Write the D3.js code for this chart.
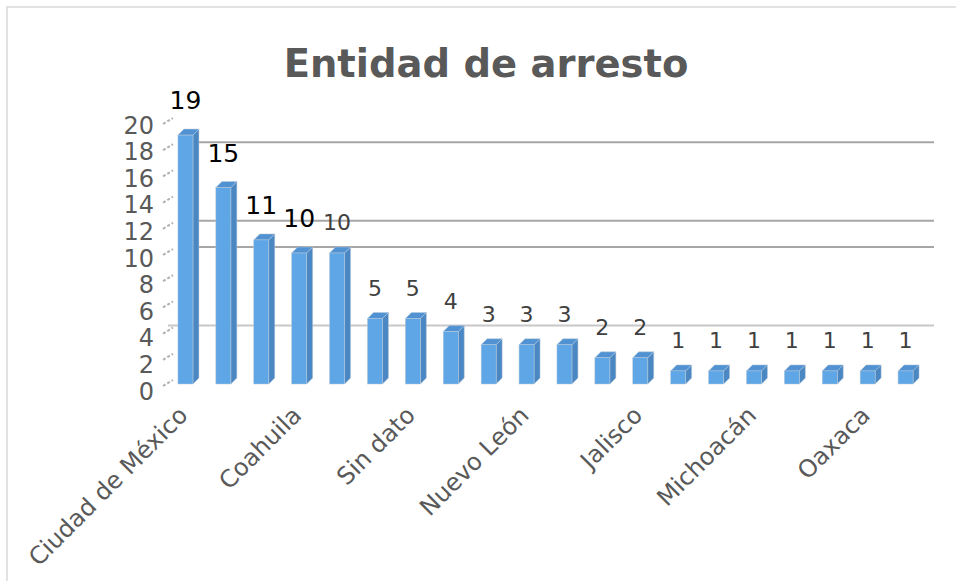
<!DOCTYPE html>
<html>
<head>
<meta charset="utf-8">
<script src="https://cdn.jsdelivr.net/npm/d3@7"></script>
<style>
  body { margin: 0; background: #fff; }
  svg { display: block; font-family: "DejaVu Sans", sans-serif; }
</style>
</head>
<body>
<script>
// categories, in the chart's order (only every third label is shown, as in the original)
const estados = ["Ciudad de México", "Estado de México", "Veracruz", "Coahuila", "Guerrero",
  "Chihuahua", "Sin dato", "Tamaulipas", "Puebla", "Nuevo León", "Sonora",
  "Baja California", "Jalisco", "Sinaloa", "Durango", "Michoacán", "Chiapas",
  "Morelos", "Oaxaca", "Tabasco"];
const arrestos = [19, 15, 11, 10, 10, 5, 5, 4, 3, 3, 3, 2, 2, 1, 1, 1, 1, 1, 1, 1];
const yTicks = [0, 2, 4, 6, 8, 10, 12, 14, 16, 18, 20];
const gridValues = [4, 10, 12, 18];

const width = 956, height = 581;
const depth = 6, barW = 15;

const svg = d3.select("body").append("svg")
    .attr("width", width)
    .attr("height", height);

// chart frame
svg.append("rect")
    .attr("x", 7).attr("y", 7)
    .attr("width", 980).attr("height", 600)
    .attr("fill", "#fff")
    .attr("stroke", "#d9d9d9")
    .attr("stroke-width", 1.5);

const x = d3.scaleBand()
    .domain(estados)
    .range([166.5, 924.5]);

const y = d3.scaleLinear()
    .domain([0, 20])
    .range([384, 122]);

// axis labels sit on the front plane, a bit off the bar scale
const yLab = d3.scaleLinear()
    .domain([0, 20])
    .range([391, 125]);

const cx = d => x(d) + x.bandwidth() / 2;

// title
svg.append("text")
    .attr("x", 486).attr("y", 77)
    .attr("text-anchor", "middle")
    .attr("font-size", 38.5)
    .attr("font-weight", "bold")
    .attr("fill", "#595959")
    .text("Entidad de arresto");

// back wall gridlines
svg.selectAll("line.grid")
    .data(gridValues)
    .enter().append("line")
    .attr("class", "grid")
    .attr("x1", d => d == 4 ? 168 : 199)
    .attr("x2", 934)
    .attr("y1", d => y(d) - depth)
    .attr("y2", d => y(d) - depth)
    .attr("stroke", d => d == 4 ? "#c8c8c8" : "#a6a6a6")
    .attr("stroke-width", 2);

// y axis: dashed depth ticks + labels
svg.selectAll("line.tick")
    .data(yTicks)
    .enter().append("line")
    .attr("class", "tick")
    .attr("x1", 163).attr("x2", 173)
    .attr("y1", d => y(d) + 2)
    .attr("y2", d => y(d) - 4)
    .attr("stroke", "#b0b0b0")
    .attr("stroke-width", 2)
    .attr("stroke-dasharray", "3,2");

svg.selectAll("text.ylab")
    .data(yTicks)
    .enter().append("text")
    .attr("class", "ylab")
    .attr("x", 154)
    .attr("y", d => yLab(d))
    .attr("dy", "0.36em")
    .attr("text-anchor", "end")
    .attr("font-size", 24)
    .attr("fill", "#595959")
    .text(d => d);

// 3d columns
const bars = svg.selectAll("g.bar")
    .data(estados.map((e, i) => ({ e: e, v: arrestos[i], i: i })))
    .enter().append("g")
    .attr("class", "bar");

bars.append("path")   // side
    .attr("d", d => {
        const x1 = cx(d.e) + barW / 2, t = y(d.v), b = y(0);
        return `M${x1},${t}L${x1 + depth},${t - depth}L${x1 + depth},${b - depth}L${x1},${b}Z`;
    })
    .attr("fill", "#4a87c3")
    .attr("stroke", "#b8c8d8")
    .attr("stroke-width", 0.5);

bars.append("path")   // top
    .attr("d", d => {
        const x0 = cx(d.e) - barW / 2, x1 = x0 + barW, t = y(d.v);
        return `M${x0},${t}L${x0 + depth},${t - depth}L${x1 + depth},${t - depth}L${x1},${t}Z`;
    })
    .attr("fill", "#5192d3")
    .attr("stroke", "#b8c8d8")
    .attr("stroke-width", 0.5);

bars.append("rect")   // front
    .attr("x", d => cx(d.e) - barW / 2)
    .attr("y", d => y(d.v))
    .attr("width", barW)
    .attr("height", d => y(0) - y(d.v))
    .attr("fill", "#5ea6e6")
    .attr("stroke", "#b8c8d8")
    .attr("stroke-width", 0.5);

// data labels
bars.append("text")
    .attr("x", d => cx(d.e))
    .attr("y", d => y(d.v) - (d.i < 4 ? 26 : 23))
    .attr("text-anchor", "middle")
    .attr("font-size", d => d.i < 4 ? 25 : 22)
    .attr("fill", d => d.i < 4 ? "#000" : "#404040")
    .text(d => d.v);

// category labels (every third one)
svg.selectAll("text.cat")
    .data(estados.filter((e, i) => i % 3 == 0))
    .enter().append("text")
    .attr("class", "cat")
    .attr("transform", d => `translate(${cx(d) - 9},${404}) rotate(-45)`)
    .attr("dy", "0.75em")
    .attr("text-anchor", "end")
    .attr("font-size", 24)
    .attr("fill", "#595959")
    .text(d => d);
</script>
</body>
</html>
